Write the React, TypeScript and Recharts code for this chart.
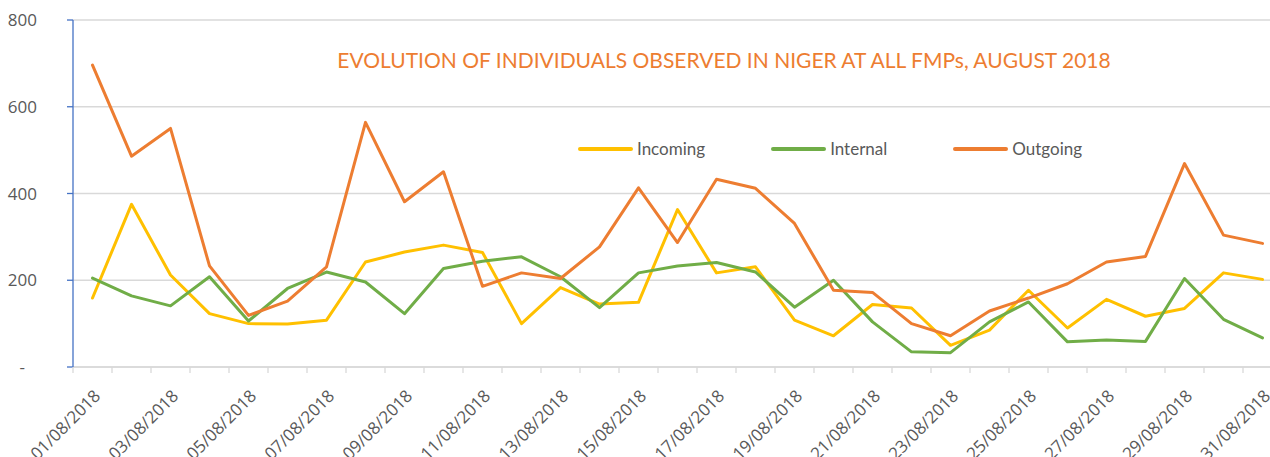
import React from 'react';
import {
  LineChart,
  Line,
  XAxis,
  YAxis,
  CartesianGrid,
  Legend
} from 'recharts';

const dates = [
  '01/08/2018', '02/08/2018', '03/08/2018', '04/08/2018', '05/08/2018', '06/08/2018',
  '07/08/2018', '08/08/2018', '09/08/2018', '10/08/2018', '11/08/2018', '12/08/2018',
  '13/08/2018', '14/08/2018', '15/08/2018', '16/08/2018', '17/08/2018', '18/08/2018',
  '19/08/2018', '20/08/2018', '21/08/2018', '22/08/2018', '23/08/2018', '24/08/2018',
  '25/08/2018', '26/08/2018', '27/08/2018', '28/08/2018', '29/08/2018', '30/08/2018',
  '31/08/2018'
];

const incoming = [
  159, 375, 212, 123, 100, 99, 108, 242, 265, 281, 264, 100, 183, 145, 149, 363,
  217, 231, 108, 72, 144, 136, 50, 85, 177, 90, 156, 117, 135, 217, 202
];

const internal = [
  205, 164, 141, 208, 106, 181, 219, 196, 123, 227, 244, 254, 208, 137, 217, 233,
  241, 219, 138, 200, 104, 35, 33, 104, 150, 58, 62, 59, 204, 110, 67
];

const outgoing = [
  696, 486, 550, 233, 119, 152, 231, 564, 381, 450, 186, 217, 204, 277, 413, 287,
  433, 412, 331, 177, 172, 100, 72, 129, 159, 192, 242, 255, 469, 304, 285
];

const yTicks = [0, 200, 400, 600, 800];

const TEXT_GREY = '#595959';
const GRID = '#D9D9D9';

const data = dates.map((d, i) => ({
  idx: i,
  date: d,
  Incoming: incoming[i],
  Internal: internal[i],
  Outgoing: outgoing[i]
}));

// tick marks sit between categories, labels on every other day
const xTicks: number[] = [];
for (let i = 0; i <= dates.length; i++) {
  xTicks.push(i - 0.5);
  if (i < dates.length && i % 2 === 0) xTicks.push(i);
}

const XTick = (props: any) => {
  const { x, y, payload } = props;
  const v = payload.value;
  if (!Number.isInteger(v)) {
    return <line x1={x} y1={y} x2={x} y2={y + 6} stroke={GRID} strokeWidth={1.3} />;
  }
  const ax = x + 9;
  const ay = y + 30;
  return (
    <text
      x={ax}
      y={ay}
      transform={`rotate(-45, ${ax}, ${ay})`}
      textAnchor="end"
      fill={TEXT_GREY}
      fontSize={17}
      fontFamily="'Open Sans', sans-serif"
    >
      {dates[v]}
    </text>
  );
};

const YTick = (props: any) => {
  const { x, y, payload } = props;
  if (payload.value === 0) {
    return (
      <text x={x - 12} y={y} dy="0.355em" textAnchor="end" fill={TEXT_GREY} fontSize={17} fontFamily="'Open Sans', sans-serif">
        -
      </text>
    );
  }
  return (
    <text x={x} y={y} dy="0.355em" textAnchor="end" fill={TEXT_GREY} fontSize={17} fontFamily="'Open Sans', sans-serif">
      {payload.value}
    </text>
  );
};

const LegendContent = (props: any) => {
  const { payload } = props;
  return (
    <div style={{ display: 'flex', alignItems: 'center' }}>
      {payload.map((entry: any) => (
        <div key={entry.value} style={{ display: 'flex', alignItems: 'center', marginRight: 66 }}>
          <div style={{ width: 55, height: 4, borderRadius: 2, background: entry.color }} />
          <span
            style={{
              marginLeft: 4,
              color: TEXT_GREY,
              fontSize: 17,
              fontFamily: "Lato, sans-serif",
              lineHeight: '20px'
            }}
          >
            {entry.value}
          </span>
        </div>
      ))}
    </div>
  );
};

export default function App() {
  return (
    <div style={{ position: 'absolute', left: 0, top: 0, width: 1270, height: 457, overflow: 'hidden', background: '#fff' }}>
      <div
        style={{
          position: 'absolute',
          left: 0,
          width: 1448,
          top: 46,
          textAlign: 'center',
          color: '#ED7D31',
          fontSize: 21,
          fontFamily: 'Lato, sans-serif',
          lineHeight: '28px',
          zIndex: 2
        }}
      >
        EVOLUTION OF INDIVIDUALS OBSERVED IN NIGER AT ALL FMPs, AUGUST 2018
      </div>
      <LineChart
        width={1300}
        height={457}
        data={data}
        margin={{ top: 20, right: 18, left: 0, bottom: 0 }}
      >
        <CartesianGrid horizontal vertical={false} stroke={GRID} strokeWidth={1.3} />
        <XAxis
          dataKey="idx"
          type="number"
          domain={[-0.5, 30.5]}
          ticks={xTicks}
          interval={0}
          tick={<XTick />}
          tickLine={false}
          tickSize={0}
          tickMargin={0}
          height={90}
          axisLine={{ stroke: GRID, strokeWidth: 1.3 }}
          allowDataOverflow
        />
        <YAxis
          width={73}
          domain={[0, 800]}
          ticks={yTicks}
          interval={0}
          tick={<YTick />}
          tickSize={6}
          tickMargin={30}
          tickLine={{ stroke: '#4472C4', strokeWidth: 1.3 }}
          axisLine={{ stroke: '#4472C4', strokeWidth: 1.3 }}
        />
        <Legend
          verticalAlign="middle"
          align="center"
          content={<LegendContent />}
          wrapperStyle={{ top: 139, left: 578, width: 700 }}
        />
        <Line
          type="linear"
          dataKey="Incoming"
          stroke="#FFC000"
          strokeWidth={3}
          dot={false}
          strokeLinejoin="round"
          strokeLinecap="round"
          isAnimationActive={false}
        />
        <Line
          type="linear"
          dataKey="Internal"
          stroke="#70AD47"
          strokeWidth={3}
          dot={false}
          strokeLinejoin="round"
          strokeLinecap="round"
          isAnimationActive={false}
        />
        <Line
          type="linear"
          dataKey="Outgoing"
          stroke="#ED7D31"
          strokeWidth={3}
          dot={false}
          strokeLinejoin="round"
          strokeLinecap="round"
          isAnimationActive={false}
        />
      </LineChart>
    </div>
  );
}
